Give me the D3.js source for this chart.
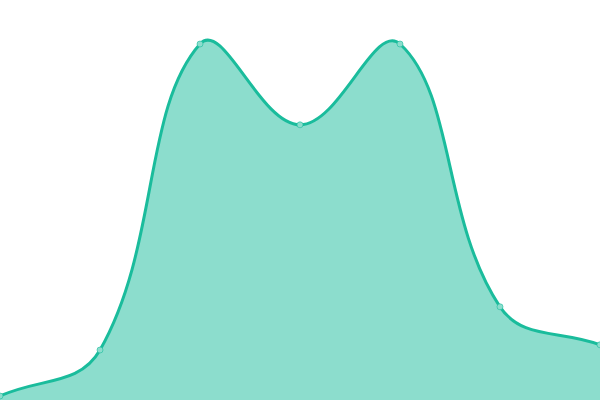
<!DOCTYPE html>
<html>
<head>
<meta charset="utf-8">
<script src="https://cdn.jsdelivr.net/npm/d3@7"></script>
<style>
  html, body { margin: 0; padding: 0; background: #fff; }
</style>
</head>
<body>
<div id="chart"></div>
<script>
// data
const categories = ["A", "B", "C", "D", "E", "F", "G"];
const values = [1, 12.5, 89, 68.8, 89, 23.3, 13.8];

const width = 600, height = 400;

// spline that passes through every point, tangent scaled by the
// distance to its neighbours (tension 0.4), ends aim at the next point
function tensionCurve(t) {
  function Curve(context) { this._context = context; }
  Curve.prototype = {
    areaStart() { this._line = 0; },
    areaEnd() { this._line = NaN; },
    lineStart() { this._pts = []; },
    point(px, py) { this._pts.push([+px, +py]); },
    lineEnd() {
      const p = this._pts, n = p.length, ctx = this._context;
      if (n) {
        if (this._line) ctx.lineTo(p[0][0], p[0][1]);
        else ctx.moveTo(p[0][0], p[0][1]);
        const cps = p.map((cur, i) => {
          const prev = p[Math.max(i - 1, 0)], next = p[Math.min(i + 1, n - 1)];
          const d01 = Math.hypot(cur[0] - prev[0], cur[1] - prev[1]);
          const d12 = Math.hypot(next[0] - cur[0], next[1] - cur[1]);
          let s01 = d01 / (d01 + d12), s12 = d12 / (d01 + d12);
          if (isNaN(s01)) s01 = 0;
          if (isNaN(s12)) s12 = 0;
          const fa = t * s01, fb = t * s12;
          const dx = next[0] - prev[0], dy = next[1] - prev[1];
          return {
            inX: cur[0] - fa * dx, inY: cur[1] - fa * dy,
            outX: cur[0] + fb * dx, outY: cur[1] + fb * dy
          };
        });
        for (let i = 1; i < n; i++) {
          ctx.bezierCurveTo(cps[i - 1].outX, cps[i - 1].outY,
            cps[i].inX, cps[i].inY, p[i][0], p[i][1]);
        }
      }
      if (this._line || (this._line !== 0 && n === 1)) ctx.closePath();
      this._line = 1 - this._line;
    }
  };
  return context => new Curve(context);
}

const curve = tensionCurve(0.4);

const svg = d3.select("#chart")
  .append("svg")
  .attr("width", width)
  .attr("height", height);

const x = d3.scalePoint()
  .domain(categories)
  .range([0, width]);

const y = d3.scaleLinear()
  .domain([0, 100])
  .range([height, 0]);

const data = categories.map((c, i) => ({ c: c, v: values[i] }));

// filled area under the curve
const area = d3.area()
  .x(d => x(d.c))
  .y0(height)
  .y1(d => y(d.v))
  .curve(curve);

svg.append("path")
  .datum(data)
  .attr("d", area)
  .attr("fill", "#1abc9c")
  .attr("fill-opacity", 0.5);

// the line on top
const line = d3.line()
  .x(d => x(d.c))
  .y(d => y(d.v))
  .curve(curve);

svg.append("path")
  .datum(data)
  .attr("d", line)
  .attr("fill", "none")
  .attr("stroke", "#1abc9c")
  .attr("stroke-width", 3);

// small point markers
svg.selectAll(".dot")
  .data(data)
  .enter().append("circle")
  .attr("class", "dot")
  .attr("cx", d => x(d.c))
  .attr("cy", d => y(d.v))
  .attr("r", 3)
  .attr("fill", "#8cddcd")
  .attr("stroke", "#1abc9c")
  .attr("stroke-opacity", 0.6)
  .attr("stroke-width", 1);
</script>
</body>
</html>
